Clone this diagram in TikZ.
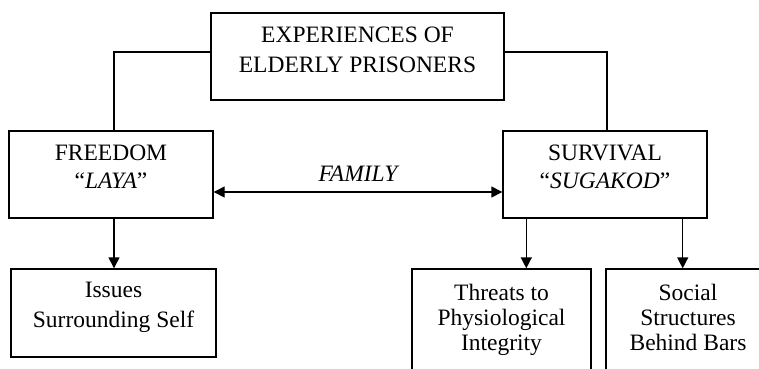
\documentclass[tikz,border=0pt]{standalone}
\usepackage{fontspec}
\setmainfont{Liberation Serif}
\usepackage{tikz}
\usetikzlibrary{arrows.meta, positioning}

\newcommand{\dpad}[1]{\rule[-#1pt]{0pt}{#1pt}}

\begin{document}
\begin{tikzpicture}[
    x=1pt, y=-1pt,
    >={Triangle[length=11pt, width=11pt]},
    line width=1.4pt,
    mainbox/.style={draw, rectangle, inner sep=0pt, minimum width=293pt, minimum height=87pt, align=center, font=\fontsize{23.5}{30}\selectfont},
    themebox/.style={draw, rectangle, inner sep=0pt, minimum width=204pt, minimum height=87pt, align=center, font=\fontsize{23.5}{27.5}\selectfont},
    subbox/.style={draw, rectangle, inner sep=0pt, minimum height=110pt, align=center, font=\fontsize{23.5}{25}\selectfont},
    arr/.style={->},
    famarr/.style={<->}
]

\useasboundingbox (0,0) rectangle (759,368);

\node[mainbox] (exp) at (357.5,56.5) {EXPERIENCES OF\\ELDERLY PRISONERS\dpad{14}};

\node[themebox] (free) at (111,174.5) {FREEDOM\\“\textit{LAYA}”\dpad{16}};
\node[themebox] (surv) at (605,174.5) {SURVIVAL\\“\textit{SUGAKOD}”\dpad{16}};

\draw ([yshift=4.5pt]exp.west) -| ([xshift=3pt]free.north);
\draw ([yshift=4.5pt]exp.east) -| ([xshift=2pt]surv.north);

\draw[famarr] ([yshift=-17.5pt]free.east) -- node[above=10pt, inner sep=0pt, font=\fontsize{23.5}{27}\selectfont\itshape] {FAMILY} ([yshift=-17.5pt]surv.west);

\node[subbox, minimum width=205pt, minimum height=88pt, font=\fontsize{23.5}{30}\selectfont] (self) at (113.5,313) {Issues\\Surrounding Self\dpad{17}};
\node[subbox, minimum width=179pt] (threat) at (501.5,324) {Threats to\\Physiological\\Integrity\dpad{12.5}};
\node[subbox, minimum width=164pt] (social) at (688,324) {Social\\Structures\\Behind Bars\dpad{12.5}};

\draw[arr] ([xshift=3pt]free.south) -- ([xshift=3pt]free.south |- self.north);
\draw[arr] ([xshift=24pt]surv.south west) -- ([xshift=24pt]surv.south west |- threat.north);
\draw[arr] ([xshift=-25pt]surv.south east) -- ([xshift=-25pt]surv.south east |- social.north);

\end{tikzpicture}
\end{document}
